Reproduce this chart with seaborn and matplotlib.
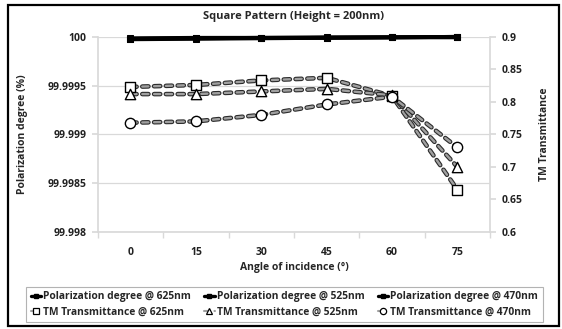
import matplotlib
matplotlib.use("Agg")
import matplotlib.pyplot as plt
import matplotlib.patheffects as pe
from matplotlib.patches import Rectangle
from matplotlib.lines import Line2D
import seaborn as sns
import pandas as pd

sns.set_theme(style="white")
plt.rcParams['font.family'] = ['Open Sans', 'DejaVu Sans']
plt.rcParams['font.weight'] = 'bold'

angles = [0, 15, 30, 45, 60, 75]

pol_625 = [99.999985, 99.99999, 99.99999, 99.999995, 99.999995, 100.0]
pol_525 = [99.99998, 99.999985, 99.99999, 99.99999, 99.999995, 100.0]
pol_470 = [99.999975, 99.99998, 99.999985, 99.99999, 99.999995, 99.999995]

tm_625 = [0.823, 0.826, 0.833, 0.837, 0.809, 0.665]
tm_525 = [0.812, 0.812, 0.816, 0.820, 0.810, 0.700]
tm_470 = [0.768, 0.770, 0.780, 0.796, 0.808, 0.730]

pol_labels = ["Polarization degree @ 625nm", "Polarization degree @ 525nm", "Polarization degree @ 470nm"]
tm_labels = ["TM Transmittance @ 625nm", "TM Transmittance @ 525nm", "TM Transmittance @ 470nm"]
tm_markers = ["s", "^", "o"]

pos = list(range(len(angles)))

fig = plt.figure(figsize=(5.62, 3.29), dpi=100)
ax = fig.add_axes([0.174, 0.295, 0.698, 0.593])
ax2 = ax.twinx()

grid_c = "#d9d9d9"
fs = 7.5
dash = (0, (2.6, 2.4))
dash_fx = [pe.Stroke(linewidth=3.3, foreground="#2b2b2b"), pe.Normal()]

# Polarization degree (left axis): heavy solid black lines with filled squares
pol_handles = []
for vals, lab in zip([pol_625, pol_525, pol_470], pol_labels):
    df = pd.DataFrame({"x": pos, "y": vals})
    sns.lineplot(data=df, x="x", y="y", ax=ax, color="black", lw=2.8,
                 marker="s", markersize=4.5, markeredgecolor="black",
                 markerfacecolor="black", clip_on=False, zorder=5)
    pol_handles.append(Line2D([], [], color="black", lw=2.4, marker="s",
                              markersize=3.5, label=lab))

# TM transmittance (right axis): outlined grey dashes with hollow markers
tm_handles = []
for vals, lab, mk in zip([tm_625, tm_525, tm_470], tm_labels, tm_markers):
    df = pd.DataFrame({"x": pos, "y": vals})
    sns.lineplot(data=df, x="x", y="y", ax=ax2, color="#a0a0a0", lw=1.7,
                 dashes=False, clip_on=False, zorder=3)
    line = ax2.lines[-1]
    line.set_linestyle(dash)
    line.set_dash_capstyle("round")
    line.set_path_effects(dash_fx)
    sns.scatterplot(data=df, x="x", y="y", ax=ax2, marker=mk, s=55,
                    facecolor="white", edgecolor="black", linewidth=1.0,
                    zorder=6, clip_on=False, legend=False)
    tm_handles.append(Line2D([], [], color="#a0a0a0", lw=1.5, ls=dash,
                             dash_capstyle="round",
                             marker=mk, markersize=4.5, markerfacecolor="white",
                             markeredgecolor="black", markeredgewidth=0.9,
                             label=lab))

ax.set_xlim(-0.5, len(angles) - 0.5)
ax.set_ylim(99.998, 100.0)
ax.set_yticks([99.998, 99.9985, 99.999, 99.9995, 100.0])
ax.set_yticklabels(["99.998", "99.9985", "99.999", "99.9995", "100"])
ax2.set_ylim(0.6, 0.9)
ax2.set_yticks([0.6, 0.65, 0.7, 0.75, 0.8, 0.85, 0.9])
ax2.set_yticklabels(["0.6", "0.65", "0.7", "0.75", "0.8", "0.85", "0.9"])

ax.set_xticks(pos)
ax.set_xticklabels([str(a) for a in angles])
ax.set_xticks([p + 0.5 for p in pos[:-1]] + [-0.5, len(angles) - 0.5], minor=True)

ax.yaxis.grid(True, color=grid_c, lw=0.9)
ax.set_axisbelow(True)
ax2.grid(False)

for a in (ax, ax2):
    for s in a.spines.values():
        s.set_visible(False)
ax.spines["left"].set_visible(True)
ax.spines["left"].set_color(grid_c)
ax.spines["bottom"].set_visible(True)
ax.spines["bottom"].set_color(grid_c)
ax2.spines["right"].set_visible(True)
ax2.spines["right"].set_color(grid_c)

ax.tick_params(axis="y", which="major", left=True, length=4, color=grid_c,
               labelsize=fs, pad=4, labelcolor="#222")
ax.tick_params(axis="x", which="major", bottom=False, labelsize=fs, pad=5,
               labelcolor="#222")
ax.tick_params(axis="x", which="minor", bottom=True, length=4, color=grid_c)
ax2.tick_params(axis="y", right=True, length=4, color=grid_c, labelsize=fs,
                pad=4, labelcolor="#222")

ax.set_xlabel("Angle of incidence (°)", fontsize=fs, fontweight="bold", labelpad=3)
ax.set_ylabel("Polarization degree (%)", fontsize=fs, fontweight="bold", labelpad=14)
ax2.set_ylabel("TM Transmittance", fontsize=fs, fontweight="bold", labelpad=12)
ax.set_title("Square Pattern (Height = 200nm)", fontsize=8, fontweight="bold", pad=13)

# legend fills column by column; interleave so rows read left to right
handles = []
for p, t in zip(pol_handles, tm_handles):
    handles += [p, t]
leg = fig.legend(handles=handles, loc="center", bbox_to_anchor=(0.506, 0.075),
                 ncol=3, fontsize=7.4, frameon=True, handlelength=1.0,
                 handletextpad=0.2, columnspacing=1.3, labelspacing=0.4,
                 borderpad=0.45, fancybox=False)
leg.get_frame().set_edgecolor("#a0a0a0")
leg.get_frame().set_linewidth(0.8)
for t in leg.get_texts():
    t.set_fontweight("bold")

fig.patches.append(Rectangle((0.014, 0.009), 0.980, 0.976, transform=fig.transFigure,
                             fill=False, edgecolor="black", lw=1.6))

fig.savefig("out.png", dpi=100, facecolor="white")
